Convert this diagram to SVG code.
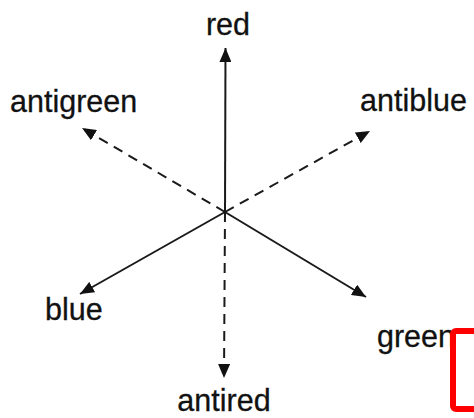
<svg xmlns="http://www.w3.org/2000/svg" width="474" height="418" viewBox="0 0 474 418">
<style>
.lbl{font-family:"Liberation Sans",Arial,sans-serif;font-size:30.5px;fill:#111;stroke:#111;stroke-width:0.3;}
.solid{stroke:#1a1a1a;stroke-width:2;fill:none;}
.dash{stroke:#1a1a1a;stroke-width:2;fill:none;stroke-dasharray:10 7;}
</style>
<defs>
<marker id="ah" markerUnits="userSpaceOnUse" markerWidth="16" markerHeight="12" refX="14" refY="6" orient="auto">
<path d="M0,0 L14,6 L0,12 Z" fill="#111"/>
</marker>
</defs>
<rect width="474" height="418" fill="#fff"/>
<g id="connectors">
<line class="solid" x1="225" y1="212" x2="225.5" y2="48" marker-end="url(#ah)"/>
<line class="dash" x1="225" y1="212" x2="82" y2="128" marker-end="url(#ah)"/>
<line class="dash" x1="225" y1="212" x2="370" y2="131" marker-end="url(#ah)"/>
<line class="solid" x1="225" y1="212" x2="80" y2="294" marker-end="url(#ah)"/>
<line class="solid" x1="225" y1="212" x2="366" y2="297" marker-end="url(#ah)"/>
<line class="dash" x1="225" y1="212" x2="224" y2="378" marker-end="url(#ah)"/>
</g>
<g id="red"><text class="lbl" x="228" y="35" text-anchor="middle">red</text></g>
<g id="antigreen"><text class="lbl" x="10" y="112">antigreen</text></g>
<g id="antiblue"><text class="lbl" x="360" y="111">antiblue</text></g>
<g id="blue"><text class="lbl" x="45" y="320">blue</text></g>
<g id="green"><text class="lbl" x="377" y="347">green</text></g>
<g id="antired"><text class="lbl" x="224" y="411" text-anchor="middle">antired</text></g>
<g id="highlight"><rect x="453" y="331" width="40" height="78" rx="3" fill="#fff" stroke="#ff0000" stroke-width="6"/></g>
</svg>
